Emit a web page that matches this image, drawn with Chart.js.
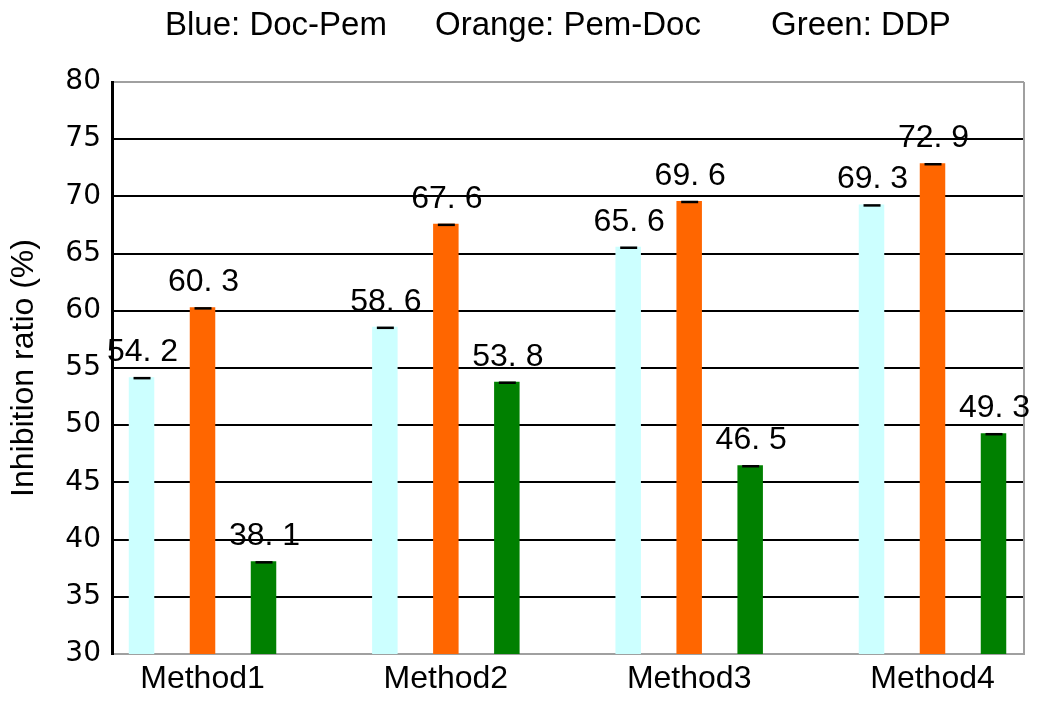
<!DOCTYPE html>
<html>
<head>
<meta charset="utf-8">
<script src="https://cdn.jsdelivr.net/npm/chart.js@4/dist/chart.umd.min.js"></script>
<style>
  body { margin: 0; background: #fff; }
  canvas { display: block; }
</style>
</head>
<body>
<canvas id="graph" width="1039" height="704"></canvas>
<script>
// chart data
var categories = ['Method1', 'Method2', 'Method3', 'Method4'];
var docPem = [54.2, 58.6, 65.6, 69.3];
var pemDoc = [60.3, 67.6, 69.6, 72.9];
var ddp = [38.1, 53.8, 46.5, 49.3];
var yTicks = [30, 35, 40, 45, 50, 55, 60, 65, 70, 75, 80];
var legendTexts = ['Blue: Doc-Pem', 'Orange: Pem-Doc', 'Green: DDP'];

var FONT = '"Liberation Sans", Arial, sans-serif';

function toPoints(values) {
  return values.map(function (v, i) { return { x: i + 1, y: v }; });
}

// top text line, error caps and value labels
var extras = {
  id: 'extras',
  afterDraw: function (chart) {
    var ctx = chart.ctx;
    var area = chart.chartArea;
    ctx.save();

    // right frame line
    ctx.strokeStyle = '#a0a0a0';
    ctx.lineWidth = 2;
    ctx.beginPath();
    ctx.moveTo(area.right, area.top);
    ctx.lineTo(area.right, area.bottom);
    ctx.stroke();

    // header
    ctx.fillStyle = '#000';
    ctx.font = '33px ' + FONT;
    ctx.textBaseline = 'middle';
    ctx.textAlign = 'left';
    var xs = [165, 435, 771];
    legendTexts.forEach(function (t, i) { ctx.fillText(t, xs[i], 26); });

    // caps + labels
    ctx.font = '32px ' + FONT;
    ctx.textAlign = 'center';
    ctx.textBaseline = 'alphabetic';
    chart.data.datasets.forEach(function (ds, di) {
      chart.getDatasetMeta(di).data.forEach(function (bar, i) {
        ctx.strokeStyle = '#000';
        ctx.lineWidth = 2.5;
        ctx.beginPath();
        ctx.moveTo(bar.x - 8, bar.y + 1);
        ctx.lineTo(bar.x + 9, bar.y + 1);
        ctx.stroke();
        var v = ds.data[i].y.toFixed(1).replace('.', '. ');
        ctx.fillText(v, bar.x + 1, bar.y - 16);
      });
    });
    ctx.restore();
  }
};

var ctx = document.getElementById('graph').getContext('2d');
new Chart(ctx, {
  type: 'bar',
  data: {
    datasets: [
      { label: 'Doc-Pem', data: toPoints(docPem), backgroundColor: '#ccffff' },
      { label: 'Pem-Doc', data: toPoints(pemDoc), backgroundColor: '#ff6600' },
      { label: 'DDP', data: toPoints(ddp), backgroundColor: '#008000' }
    ]
  },
  options: {
    responsive: false,
    animation: false,
    categoryPercentage: 0.752,
    barPercentage: 0.418,
    layout: { padding: { top: 82, right: 15, left: 0, bottom: 0 } },
    plugins: {
      legend: { display: false },
      tooltip: { enabled: false }
    },
    scales: {
      x: {
        type: 'linear',
        offset: false,
        bounds: 'data',
        min: 0.628,
        max: 4.376,
        afterBuildTicks: function (axis) {
          axis.ticks = categories.map(function (c, i) { return { value: i + 1 }; });
        },
        afterFit: function (axis) { axis.height = 50; },
        grid: { display: false, drawTicks: false, offset: false },
        border: { display: true, color: '#a0a0a0', width: 2 },
        ticks: {
          autoSkip: false,
          maxRotation: 0,
          padding: 6,
          color: '#000',
          font: { family: FONT, size: 32 },
          callback: function (value) { return categories[Math.round(value) - 1]; }
        }
      },
      y: {
        min: 30,
        max: 80,
        afterBuildTicks: function (axis) {
          axis.ticks = yTicks.map(function (v) { return { value: v }; });
        },
        afterFit: function (axis) { axis.width = 112; },
        grid: {
          drawTicks: false,
          lineWidth: 2,
          color: function (c) {
            return (c.tick && (c.tick.value === 80 || c.tick.value === 30)) ? '#a0a0a0' : '#000';
          }
        },
        border: { display: true, color: '#000', width: 3 },
        ticks: {
          padding: 11,
          color: '#000',
          font: { family: '"DejaVu Sans", sans-serif', size: 28 }
        },
        title: {
          display: true,
          text: 'Inhibition ratio (%)',
          color: '#000',
          font: { family: FONT, size: 32 },
          padding: { top: 5, bottom: 0 }
        }
      }
    }
  },
  plugins: [extras]
});
</script>
</body>
</html>
